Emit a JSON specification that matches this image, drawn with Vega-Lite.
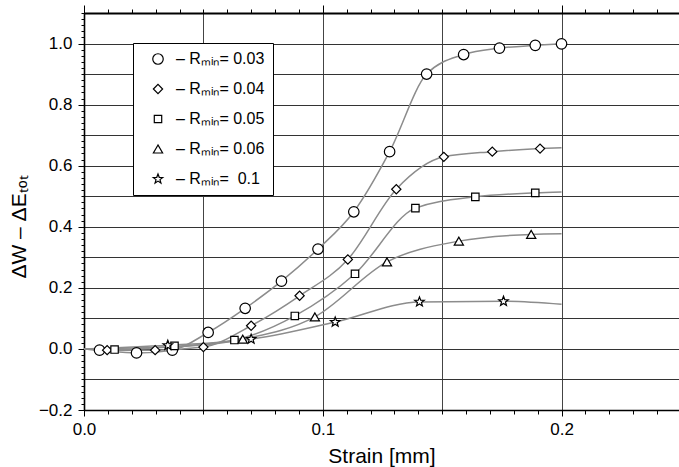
{
  "$schema": "https://vega.github.io/schema/vega-lite/v6.json",
  "width": 595,
  "height": 397,
  "autosize": {"type": "none"},
  "padding": {"left": 84, "top": 13, "right": 0, "bottom": 57},
  "background": "white",
  "config": {
    "font": "Liberation Sans",
    "view": {"stroke": null},
    "axis": {"labelFont": "Liberation Sans", "titleFont": "Liberation Sans", "labelColor": "black", "titleColor": "black", "tickColor": "black", "domainColor": "black", "titleFontWeight": "normal", "labelFlush": false}
  },
  "datasets": {
    "curves": [
      {"r": "0.03", "x": 0, "y": 0}, {"r": "0.03", "x": 0.0065, "y": -0.004}, {"r": "0.03", "x": 0.022, "y": -0.013}, {"r": "0.03", "x": 0.037, "y": -0.004}, {"r": "0.03", "x": 0.052, "y": 0.054}, {"r": "0.03", "x": 0.0675, "y": 0.133}, {"r": "0.03", "x": 0.0827, "y": 0.222}, {"r": "0.03", "x": 0.098, "y": 0.327}, {"r": "0.03", "x": 0.113, "y": 0.449}, {"r": "0.03", "x": 0.128, "y": 0.646}, {"r": "0.03", "x": 0.1435, "y": 0.9}, {"r": "0.03", "x": 0.159, "y": 0.964}, {"r": "0.03", "x": 0.174, "y": 0.985}, {"r": "0.03", "x": 0.189, "y": 0.994}, {"r": "0.03", "x": 0.2, "y": 0.999},
      {"r": "0.04", "x": 0, "y": 0}, {"r": "0.04", "x": 0.0097, "y": -0.004}, {"r": "0.04", "x": 0.0298, "y": -0.004}, {"r": "0.04", "x": 0.05, "y": 0.006}, {"r": "0.04", "x": 0.07, "y": 0.076}, {"r": "0.04", "x": 0.0903, "y": 0.174}, {"r": "0.04", "x": 0.1105, "y": 0.293}, {"r": "0.04", "x": 0.1308, "y": 0.523}, {"r": "0.04", "x": 0.1507, "y": 0.629}, {"r": "0.04", "x": 0.171, "y": 0.646}, {"r": "0.04", "x": 0.191, "y": 0.656}, {"r": "0.04", "x": 0.2, "y": 0.659},
      {"r": "0.05", "x": 0, "y": 0}, {"r": "0.05", "x": 0.0128, "y": -0.002}, {"r": "0.05", "x": 0.0379, "y": 0.008}, {"r": "0.05", "x": 0.063, "y": 0.029}, {"r": "0.05", "x": 0.0883, "y": 0.108}, {"r": "0.05", "x": 0.1135, "y": 0.246}, {"r": "0.05", "x": 0.1388, "y": 0.461}, {"r": "0.05", "x": 0.1639, "y": 0.498}, {"r": "0.05", "x": 0.189, "y": 0.511}, {"r": "0.05", "x": 0.2, "y": 0.514},
      {"r": "0.06", "x": 0, "y": 0}, {"r": "0.06", "x": 0.035, "y": 0.006}, {"r": "0.06", "x": 0.0665, "y": 0.032}, {"r": "0.06", "x": 0.0967, "y": 0.105}, {"r": "0.06", "x": 0.1269, "y": 0.285}, {"r": "0.06", "x": 0.157, "y": 0.353}, {"r": "0.06", "x": 0.1873, "y": 0.375}, {"r": "0.06", "x": 0.2, "y": 0.377},
      {"r": "0.1", "x": 0, "y": 0}, {"r": "0.1", "x": 0.0351, "y": 0.012}, {"r": "0.1", "x": 0.07, "y": 0.032}, {"r": "0.1", "x": 0.1052, "y": 0.088}, {"r": "0.1", "x": 0.1405, "y": 0.154}, {"r": "0.1", "x": 0.1757, "y": 0.156}, {"r": "0.1", "x": 0.2, "y": 0.146}
    ],
    "markers": [
      {"r": "0.03", "x": 0.0065, "y": -0.004}, {"r": "0.03", "x": 0.022, "y": -0.013}, {"r": "0.03", "x": 0.037, "y": -0.004}, {"r": "0.03", "x": 0.052, "y": 0.054}, {"r": "0.03", "x": 0.0675, "y": 0.133}, {"r": "0.03", "x": 0.0827, "y": 0.222}, {"r": "0.03", "x": 0.098, "y": 0.327}, {"r": "0.03", "x": 0.113, "y": 0.449}, {"r": "0.03", "x": 0.128, "y": 0.646}, {"r": "0.03", "x": 0.1435, "y": 0.9}, {"r": "0.03", "x": 0.159, "y": 0.964}, {"r": "0.03", "x": 0.174, "y": 0.985}, {"r": "0.03", "x": 0.189, "y": 0.994}, {"r": "0.03", "x": 0.2, "y": 0.999},
      {"r": "0.04", "x": 0.0097, "y": -0.004}, {"r": "0.04", "x": 0.0298, "y": -0.004}, {"r": "0.04", "x": 0.05, "y": 0.006}, {"r": "0.04", "x": 0.07, "y": 0.076}, {"r": "0.04", "x": 0.0903, "y": 0.174}, {"r": "0.04", "x": 0.1105, "y": 0.293}, {"r": "0.04", "x": 0.1308, "y": 0.523}, {"r": "0.04", "x": 0.1507, "y": 0.629}, {"r": "0.04", "x": 0.171, "y": 0.646}, {"r": "0.04", "x": 0.191, "y": 0.656},
      {"r": "0.05", "x": 0.0128, "y": -0.002}, {"r": "0.05", "x": 0.0379, "y": 0.01}, {"r": "0.05", "x": 0.063, "y": 0.029}, {"r": "0.05", "x": 0.0883, "y": 0.108}, {"r": "0.05", "x": 0.1135, "y": 0.246}, {"r": "0.05", "x": 0.1388, "y": 0.461}, {"r": "0.05", "x": 0.1639, "y": 0.498}, {"r": "0.05", "x": 0.189, "y": 0.511},
      {"r": "0.06", "x": 0.0665, "y": 0.032}, {"r": "0.06", "x": 0.0967, "y": 0.105}, {"r": "0.06", "x": 0.1269, "y": 0.285}, {"r": "0.06", "x": 0.157, "y": 0.353}, {"r": "0.06", "x": 0.1873, "y": 0.375},
      {"r": "0.1", "x": 0.0351, "y": 0.012}, {"r": "0.1", "x": 0.07, "y": 0.032}, {"r": "0.1", "x": 0.1052, "y": 0.088}, {"r": "0.1", "x": 0.1405, "y": 0.154}, {"r": "0.1", "x": 0.1757, "y": 0.156}
    ]
  },
  "resolve": {"axis": {"x": "independent", "y": "independent"}},
  "layer": [
    {
      "data": {"name": "curves"},
      "mark": {"type": "point", "opacity": 0},
      "encoding": {
        "x": {"field": "x", "type": "quantitative", "scale": {"domain": [0, 0.2492], "nice": false, "zero": false},
              "axis": {"orient": "bottom", "values": [0.05, 0.1, 0.15, 0.2], "grid": true, "gridColor": "#444", "gridWidth": 1, "gridOpacity": 1, "ticks": false, "labels": false, "domain": false, "title": null}},
        "y": {"field": "y", "type": "quantitative", "scale": {"domain": [-0.2, 1.1], "nice": false, "zero": false},
              "axis": {"orient": "left", "values": [-0.1, 0, 0.1, 0.2, 0.3, 0.4, 0.5, 0.6, 0.7, 0.8, 0.9, 1.0], "grid": true, "gridColor": "#333", "gridWidth": 1, "gridOpacity": 1, "ticks": false, "labels": false, "domain": false, "title": null}}
      }
    },
    {
      "data": {"name": "curves"},
      "mark": {"type": "line", "interpolate": "monotone", "color": "#8c8c8c", "strokeWidth": 1.5},
      "encoding": {
        "detail": {"field": "r", "type": "nominal"},
        "x": {"field": "x", "type": "quantitative",
              "axis": {"orient": "bottom", "values": [0, 0.1, 0.2], "format": ".1f", "grid": false, "tickSize": 6, "tickWidth": 1, "labelFontSize": 17, "labelPadding": 5, "domain": true, "domainWidth": 1.6, "title": "Strain [mm]", "titleFontSize": 21, "titlePadding": 8}},
        "y": {"field": "y", "type": "quantitative",
              "axis": {"orient": "left", "values": [-0.2, 0, 0.2, 0.4, 0.6, 0.8, 1.0], "format": ".1f", "grid": false, "tickSize": 6, "tickWidth": 1, "labelFontSize": 17, "labelPadding": 6, "domain": true, "domainWidth": 1.6, "title": "ΔW – ΔEₜₒₜ", "titleFontSize": 21, "titleAngle": -90, "titleAlign": "center", "titleBaseline": "alphabetic", "titleX": -59, "titleY": 213.5}}
      }
    },
    {
      "data": {"name": "markers"},
      "mark": {"type": "point", "filled": true, "fill": "white", "stroke": "black", "strokeWidth": 1.2, "opacity": 1},
      "encoding": {
        "x": {"field": "x", "type": "quantitative",
              "axis": {"orient": "bottom", "values": [0, 0.01, 0.02, 0.03, 0.04, 0.05, 0.06, 0.07, 0.08, 0.09, 0.1, 0.11, 0.12, 0.13, 0.14, 0.15, 0.16, 0.17, 0.18, 0.19, 0.2, 0.21, 0.22, 0.23, 0.24], "grid": false, "tickSize": 4, "labels": false, "domain": false, "title": null}},
        "y": {"field": "y", "type": "quantitative",
              "axis": {"orient": "left", "values": [-0.2, -0.18, -0.16, -0.14, -0.12, -0.1, -0.08, -0.06, -0.04, -0.02, 0, 0.02, 0.04, 0.06, 0.08, 0.1, 0.12, 0.14, 0.16, 0.18, 0.2, 0.22, 0.24, 0.26, 0.28, 0.3, 0.32, 0.34, 0.36, 0.38, 0.4, 0.42, 0.44, 0.46, 0.48, 0.5, 0.52, 0.54, 0.56, 0.58, 0.6, 0.62, 0.64, 0.66, 0.68, 0.7, 0.72, 0.74, 0.76, 0.78, 0.8, 0.82, 0.84, 0.86, 0.88, 0.9, 0.92, 0.94, 0.96, 0.98, 1, 1.02, 1.04, 1.06, 1.08, 1.1], "grid": false, "tickSize": 3, "labels": false, "domain": false, "title": null}},
        "shape": {"field": "r", "type": "nominal",
                  "scale": {"domain": ["0.03", "0.04", "0.05", "0.06", "0.1"], "range": ["circle", "diamond", "square", "triangle-up", "M0,-1L0.247,-0.34L0.951,-0.309L0.399,0.13L0.588,0.809L0,0.42L-0.588,0.809L-0.399,0.13L-0.951,-0.309L-0.247,-0.34Z"]},
                  "legend": {"title": null, "orient": "none", "legendX": 49, "legendY": 30, "direction": "vertical", "padding": 8, "rowPadding": 14, "symbolOffset": 9, "labelOffset": 10, "labelFontSize": 16, "labelFont": "Liberation Sans", "labelColor": "black", "strokeColor": "black", "fillColor": "white", "symbolStrokeColor": "black", "symbolFillColor": "white", "symbolStrokeWidth": 1.2,
                             "labelExpr": "'– Rₘᵢₙ= ' + (datum.value == '0.1' ? '\u00a00.1' : datum.value)"}},
        "size": {"field": "r", "type": "nominal",
                 "scale": {"type": "ordinal", "domain": ["0.03", "0.04", "0.05", "0.06", "0.1"], "range": [110, 85, 55, 85, 100]}}
      }
    },
    {
      "data": {"name": "curves"},
      "mark": {"type": "point", "opacity": 0},
      "encoding": {
        "x": {"field": "x", "type": "quantitative",
              "axis": {"orient": "top", "values": [0, 0.01, 0.02, 0.03, 0.04, 0.05, 0.06, 0.07, 0.08, 0.09, 0.1, 0.11, 0.12, 0.13, 0.14, 0.15, 0.16, 0.17, 0.18, 0.19, 0.2, 0.21, 0.22, 0.23, 0.24], "grid": false, "tickSize": 4, "labels": false, "domain": true, "domainWidth": 2, "title": null}},
        "y": {"field": "y", "type": "quantitative", "axis": null}
      }
    },
    {
      "data": {"name": "curves"},
      "mark": {"type": "point", "opacity": 0},
      "encoding": {
        "x": {"field": "x", "type": "quantitative",
              "axis": {"orient": "top", "values": [0, 0.1, 0.2], "grid": false, "tickSize": 8, "labels": false, "domain": false, "title": null}},
        "y": {"field": "y", "type": "quantitative", "axis": null}
      }
    }
  ]
}
